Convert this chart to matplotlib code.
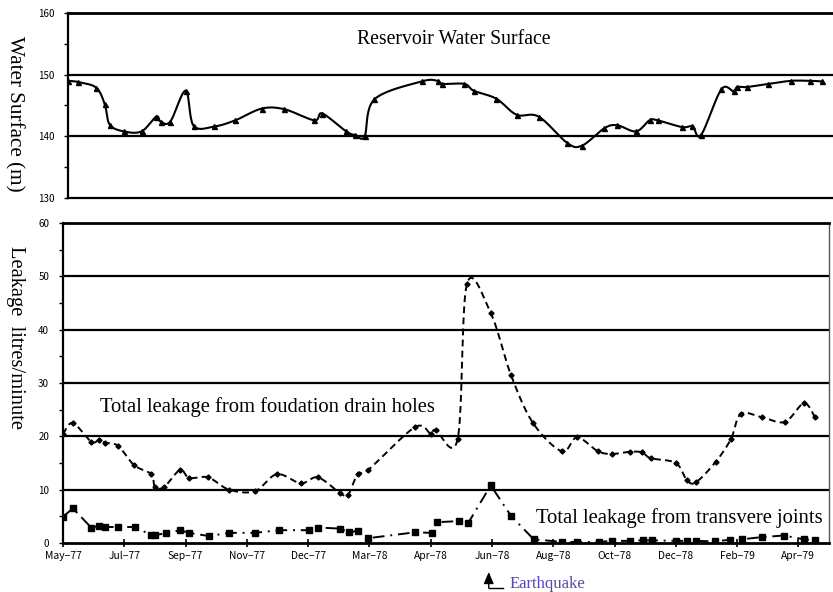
import numpy as np
import matplotlib
matplotlib.use("Agg")
import matplotlib.pyplot as plt

# ---- data -------------------------------------------------------------
# x positions are in label-interval units (0 = May-77, 1 = Jul-77, ...)
month_labels = ["May−77", "Jul−77", "Sep−77", "Nov−77", "Dec−77", "Mar−78",
                "Apr−78", "Jun−78", "Aug−78", "Oct−78", "Dec−78", "Feb−79",
                "Apr−79"]

level_t = [0.00, 0.17, 0.46, 0.60, 0.68, 0.91, 1.20, 1.44, 1.51, 1.67,
           1.92, 2.05, 2.39, 2.73, 3.16, 3.53, 4.02, 4.15, 4.54, 4.69,
           4.84, 5.00, 5.77, 6.03, 6.11, 6.47, 6.62, 6.99, 7.32, 7.68,
           8.15, 8.39, 8.75, 8.96, 9.27, 9.49, 9.62, 10.02, 10.19, 10.33,
           10.66, 10.86, 10.92, 11.08, 11.43, 11.80, 12.11, 12.31]
level_m = [149.0, 148.8, 147.9, 145.2, 141.9, 140.8, 140.8, 143.2, 142.4, 142.4,
           147.4, 141.7, 141.6, 142.6, 144.5, 144.4, 142.6, 143.7, 140.8, 140.2,
           140.0, 146.0, 148.9, 149.0, 148.5, 148.5, 147.4, 146.1, 143.5, 143.2,
           138.9, 138.5, 141.3, 141.8, 140.8, 142.6, 142.6, 141.5, 141.6, 140.2,
           147.6, 147.3, 148.0, 148.0, 148.5, 149.0, 149.0, 148.9]

drain_t = [0.00, 0.16, 0.46, 0.59, 0.69, 0.90, 1.16, 1.44, 1.50, 1.65,
           1.91, 2.06, 2.37, 2.71, 3.13, 3.49, 3.88, 4.16, 4.52, 4.65,
           4.81, 4.98, 5.74, 6.00, 6.08, 6.44, 6.59, 6.98, 7.31, 7.67,
           8.14, 8.39, 8.73, 8.96, 9.25, 9.45, 9.59, 10.00, 10.18, 10.33,
           10.65, 10.90, 11.06, 11.40, 11.78, 12.09, 12.27]
drain_lpm = [20.4, 22.5, 19.0, 19.3, 18.8, 18.2, 14.6, 12.9, 10.5, 10.5,
             13.7, 12.2, 12.3, 10.0, 9.7, 12.9, 11.2, 12.3, 9.4, 9.0,
             13.0, 13.7, 21.7, 20.5, 21.2, 19.5, 48.5, 43.1, 31.5, 22.5,
             17.2, 19.8, 17.2, 16.7, 17.1, 17.0, 15.9, 15.0, 11.8, 11.4,
             15.2, 19.5, 24.2, 23.6, 22.7, 26.2, 23.6]

joint_t = [0.00, 0.16, 0.46, 0.59, 0.69, 0.90, 1.17, 1.44, 1.50, 1.68,
           1.91, 2.06, 2.38, 2.71, 3.13, 3.52, 4.01, 4.16, 4.52, 4.67,
           4.81, 4.98, 5.74, 6.02, 6.10, 6.46, 6.61, 6.98, 7.31, 7.68,
           8.14, 8.39, 8.74, 8.96, 9.25, 9.46, 9.61, 10.00, 10.18, 10.33,
           10.64, 10.88, 11.08, 11.40, 11.76, 12.09, 12.27]
joint_lpm = [4.9, 6.5, 2.9, 3.2, 3.0, 3.0, 3.0, 1.5, 1.5, 1.8,
             2.4, 1.9, 1.3, 1.9, 1.9, 2.4, 2.4, 2.9, 2.7, 2.0,
             2.3, 0.9, 2.0, 1.9, 3.9, 4.1, 3.7, 10.8, 5.1, 0.7,
             0.2, 0.2, 0.2, 0.4, 0.4, 0.5, 0.5, 0.4, 0.4, 0.4,
             0.3, 0.6, 0.7, 1.1, 1.4, 0.7, 0.5]

earthquake_t = 6.98


def smooth(x, y, n=20):
    """Smoothed line through the points (cubic Bezier, 1/6 tangents)."""
    p = np.column_stack([x, y]).astype(float)
    ext = np.vstack([p[0], p, p[-1]])
    t = np.linspace(0, 1, n, endpoint=False)[:, None]
    out = []
    for i in range(len(p) - 1):
        p0, p1, p2, p3 = ext[i], ext[i + 1], ext[i + 2], ext[i + 3]
        c1 = p1 + (p2 - p0) / 6.0
        c2 = p2 - (p3 - p1) / 6.0
        out.append((1 - t) ** 3 * p1 + 3 * (1 - t) ** 2 * t * c1
                   + 3 * (1 - t) * t ** 2 * c2 + t ** 3 * p2)
    out.append(p[-1][None, :])
    s = np.vstack(out)
    return s[:, 0], s[:, 1]


W, H = 833, 592
fig = plt.figure(figsize=(W / 100, H / 100), dpi=100)
fig.patch.set_facecolor("white")

serif = ["Liberation Serif", "DejaVu Serif"]
tickfont = ["Noto Sans CJK JP", "DejaVu Sans"]

# ---- reservoir level panel -------------------------------------------
ax1 = fig.add_axes([68 / W, 1 - 198 / H, 766 / W, 185 / H])
ax1.set_xlim(0, 12.5)
ax1.set_ylim(130, 160)
for v in (140, 150):
    ax1.axhline(v, color="black", lw=1.6, zorder=1)
sx, sy = smooth(level_t, level_m)
ax1.plot(sx, sy, color="black", lw=1.5, zorder=3, clip_on=False)
ax1.plot(level_t, level_m, ls="none", marker="^", ms=3.6, color="black", zorder=4)
ax1.set_xticks([])
ax1.set_yticks([130, 140, 150, 160])
ax1.set_yticks([135, 145, 155], minor=True)
ax1.tick_params(axis="y", which="both", direction="out", length=3, width=1,
                pad=7, labelsize=7)
ax1.spines["right"].set_visible(False)
ax1.spines["top"].set_linewidth(2.0)
ax1.spines["left"].set_linewidth(1.6)
ax1.spines["bottom"].set_linewidth(1.6)
for lab in ax1.get_yticklabels():
    lab.set_family(tickfont)
ax1.text(0.503, 0.855, "Reservoir Water Surface", transform=ax1.transAxes,
         ha="center", va="center", fontsize=14.2, family=serif)

# ---- leakage panel ----------------------------------------------------
ax2 = fig.add_axes([63 / W, 1 - 543 / H, 766 / W, 320 / H])
ax2.set_xlim(0, 12.5)
ax2.set_ylim(0, 60)
for v in (10, 20, 30, 40, 50):
    ax2.axhline(v, color="black", lw=1.6, zorder=1)

dx, dy = smooth(drain_t, drain_lpm)
ax2.plot(dx, dy, color="black", lw=1.4, ls=(0, (3.5, 2.2)), zorder=3)
ax2.plot(drain_t, drain_lpm, ls="none", marker="D", ms=2.6, color="black", zorder=4)

ax2.plot(joint_t, joint_lpm, color="black", lw=1.4, ls=(0, (6, 3, 1, 3)), zorder=3)
ax2.plot(joint_t, joint_lpm, ls="none", marker="s", ms=4.2, color="black", zorder=4)

ax2.set_xticks(range(len(month_labels)))
ax2.set_xticklabels(month_labels, family=tickfont, fontsize=7.4)
ax2.set_yticks(range(0, 61, 10))
ax2.set_yticks(range(5, 60, 10), minor=True)
ax2.tick_params(axis="y", which="both", direction="out", length=3, width=1,
                pad=7, labelsize=7)
ax2.tick_params(axis="x", direction="inout", length=6, width=1.2, pad=2.5)
for lab in ax2.get_yticklabels():
    lab.set_family(tickfont)
ax2.spines["top"].set_linewidth(2.0)
ax2.spines["left"].set_linewidth(1.6)
ax2.spines["bottom"].set_linewidth(2.0)
ax2.spines["right"].set_linewidth(1.0)
ax2.spines["right"].set_color("#555555")

ax2.text(0.60, 25.5, "Total leakage from foudation drain holes",
         ha="left", va="center", fontsize=14.9, family=serif)
ax2.text(7.72, 4.6, "Total leakage from transvere joints",
         ha="left", va="center", fontsize=14.9, family=serif)

# ---- axis titles --------------------------------------------------------
fig.text(14 / W, 1 - 114 / H, "Water Surface (m)", rotation=270,
         ha="center", va="center", fontsize=15.2, family=serif)
fig.text(15 / W, 1 - 337 / H, "Leakage  litres/minute", rotation=270,
         ha="center", va="center", fontsize=14.8, family=serif)

# ---- earthquake marker below the time axis ------------------------------
quake_x = ax2.transData.transform((earthquake_t, 0))[0]
ax2.annotate("", xy=(quake_x - 2, H - 572), xycoords="figure pixels",
             xytext=(quake_x - 2, H - 588), textcoords="figure pixels",
             arrowprops=dict(arrowstyle="-|>,head_length=0.7,head_width=0.3",
                             color="black", lw=1.0, shrinkA=0, shrinkB=0),
             annotation_clip=False)
fig.add_artist(plt.Line2D([(quake_x - 2) / W, (quake_x + 12) / W],
                          [1 - 588 / H, 1 - 588 / H], color="black", lw=1.0,
                          transform=fig.transFigure))
fig.text((quake_x + 19) / W, 1 - 584 / H, "Earthquake", ha="left", va="center",
         fontsize=12, family=serif, color="#5B45B5")

fig.savefig("out.png", dpi=100, facecolor="white")
